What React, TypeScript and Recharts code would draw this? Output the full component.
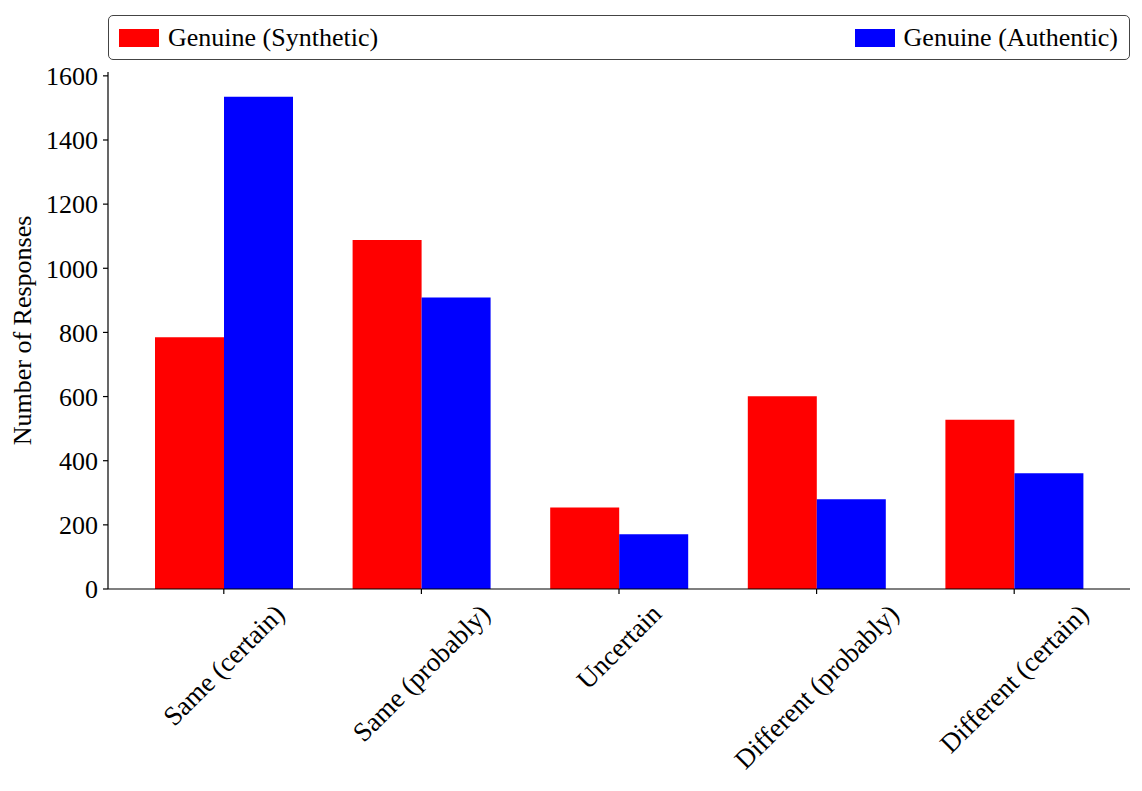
import React from 'react';
import { BarChart, Bar, XAxis, YAxis, Legend } from 'recharts';

const categories = ['Same (certain)', 'Same (probably)', 'Uncertain', 'Different (probably)', 'Different (certain)'];
const syntheticValues = [785, 1088, 254, 601, 528];
const authenticValues = [1535, 909, 171, 280, 361];
const yTicks = [0, 200, 400, 600, 800, 1000, 1200, 1400, 1600];
const seriesNames = ['Genuine (Synthetic)', 'Genuine (Authentic)'];
const seriesColors = ['#ff0000', '#0000ff'];

const data = categories.map((c, i) => ({
  category: c,
  synthetic: syntheticValues[i],
  authentic: authenticValues[i],
}));

const FONT = '"Liberation Serif", "Times New Roman", serif';
const FS = 26;
const XFS = 27;

let canvasCtx: CanvasRenderingContext2D | null = null;
function measure(text: string): number {
  if (!canvasCtx) {
    const c = document.createElement('canvas');
    canvasCtx = c.getContext('2d');
  }
  if (!canvasCtx) return text.length * XFS * 0.45;
  canvasCtx.font = `${XFS}px "Liberation Serif"`;
  return canvasCtx.measureText(text).width;
}

function XTick(props: any) {
  const { x, y, payload } = props;
  const text = String(payload.value);
  const W = measure(text);
  const h = XFS * 0.75;
  const half = (W + h) / (2 * Math.SQRT2);
  const cx = x;
  const cy = y + 6 + half;
  return (
    <text
      x={cx}
      y={cy}
      textAnchor="middle"
      dominantBaseline="central"
      transform={`rotate(-45 ${cx} ${cy})`}
      fontFamily={FONT}
      fontSize={XFS}
      fill="#000"
    >
      {text}
    </text>
  );
}

function LegendBox(props: any) {
  const payload = [...(props.payload || [])].sort(
    (a: any, b: any) => seriesNames.indexOf(a.value) - seriesNames.indexOf(b.value)
  );
  return (
    <div
      style={{
        boxSizing: 'border-box',
        width: 1022,
        height: 45,
        border: '1.3px solid #444',
        borderRadius: 5,
        background: '#fff',
        display: 'flex',
        justifyContent: 'space-between',
        alignItems: 'center',
        padding: '0 11px 0 10px',
        fontFamily: FONT,
        fontSize: FS,
        color: '#000',
      }}
    >
      {payload.map((p: any) => (
        <div key={p.value} style={{ display: 'flex', alignItems: 'center' }}>
          <span style={{ display: 'inline-block', width: 40, height: 18, background: p.color, marginRight: 9 }} />
          <span style={{ lineHeight: '30px' }}>{p.value}</span>
        </div>
      ))}
    </div>
  );
}

export default function App() {
  return (
    <div style={{ position: 'absolute', left: 0, top: 0, width: 1142, height: 791, background: '#fff' }}>
      <BarChart
        width={1142}
        height={791}
        data={data}
        margin={{ top: 72, right: 12, bottom: 0, left: 0 }}
        barGap={0}
        barSize={69}
      >
        <XAxis
          dataKey="category"
          xAxisId={0}
          height={202}
          padding={{ left: 17, right: 17 }}
          tick={<XTick />}
          tickSize={5}
          interval={0}
          axisLine={{ stroke: '#000', strokeWidth: 1.2 }}
          tickLine={{ stroke: '#000', strokeWidth: 1.2 }}
        />
        <XAxis
          dataKey="category"
          xAxisId="top"
          orientation="top"
          height={0}
          tick={false}
          tickLine={false}
          axisLine={{ stroke: '#000', strokeWidth: 1.2 }}
        />
        <YAxis
          yAxisId={0}
          width={108}
          domain={[0, 1612]}
          ticks={yTicks}
          interval={0}
          tickSize={5}
          tickMargin={5}
          tick={{ fontFamily: FONT, fontSize: FS, fill: '#000' }}
          axisLine={{ stroke: '#000', strokeWidth: 1.2 }}
          tickLine={{ stroke: '#000', strokeWidth: 1.2 }}
          label={{
            value: 'Number of Responses',
            angle: -90,
            position: 'center',
            dx: -32,
            style: { fontFamily: FONT, fontSize: FS, fill: '#000', textAnchor: 'middle' },
          }}
        />
        <YAxis
          yAxisId="right"
          orientation="right"
          width={0}
          domain={[0, 1612]}
          tick={false}
          tickLine={false}
          axisLine={{ stroke: '#000', strokeWidth: 1.2 }}
        />
        <Legend
          layout="horizontal"
          verticalAlign="middle"
          align="center"
          wrapperStyle={{ position: 'absolute', left: 108, top: 15, width: 1022 }}
          content={<LegendBox />}
        />
        <Bar dataKey="synthetic" name={seriesNames[0]} fill={seriesColors[0]} xAxisId={0} yAxisId={0} isAnimationActive={false} />
        <Bar dataKey="authentic" name={seriesNames[1]} fill={seriesColors[1]} xAxisId={0} yAxisId={0} isAnimationActive={false} />
      </BarChart>
    </div>
  );
}
